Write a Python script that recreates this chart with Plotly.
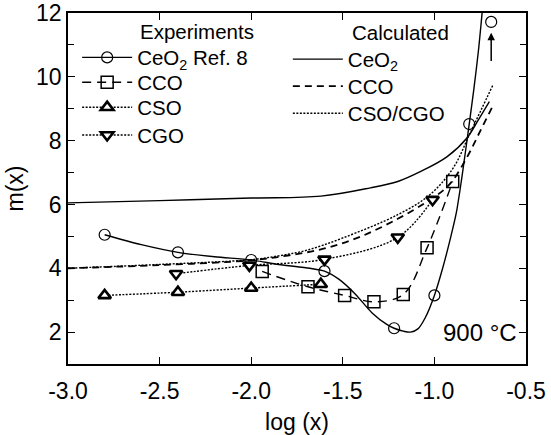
import plotly.graph_objects as go

# ---------------- data ----------------
# Experiments
ceo2_exp_x = [-2.8, -2.4, -2.0, -1.6, -1.22, -1.0, -0.81]
ceo2_exp_y = [5.05, 4.5, 4.26, 3.91, 2.12, 3.15, 8.52]
ceo2_off_x = [-0.69]
ceo2_off_y = [11.72]
ceo2_fit_x = [-2.8, -2.6, -2.4, -2.2, -2.0, -1.85, -1.68, -1.6, -1.52, -1.43, -1.34,
              -1.26, -1.22, -1.17, -1.13, -1.09, -1.05, -1.0, -0.955, -0.91, -0.88,
              -0.85, -0.81, -0.785, -0.76, -0.738]
ceo2_fit_y = [5.05, 4.74, 4.5, 4.36, 4.26, 4.12, 4.0, 3.91, 3.65, 3.18, 2.6,
              2.24, 2.12, 2.03, 2.0, 2.1, 2.45, 3.15, 4.0, 5.0, 5.75,
              6.85, 8.52, 9.6, 10.8, 12.1]

cco_exp_x = [-1.94, -1.69, -1.49, -1.33, -1.17, -1.04, -0.9]
cco_exp_y = [3.9, 3.42, 3.15, 2.95, 3.18, 4.64, 6.72]

cso_exp_x = [-2.8, -2.4, -2.0, -1.62]
cso_exp_y = [3.15, 3.25, 3.38, 3.5]

cgo_exp_x = [-2.41, -2.01, -1.6, -1.2, -1.01]
cgo_exp_y = [3.83, 4.09, 4.28, 4.97, 6.15]

# Calculated
ceo2_calc_x = [-3.0, -2.5, -2.0, -1.62, -1.35, -1.2, -1.08, -0.93, -0.82, -0.76, -0.7]
ceo2_calc_y = [6.05, 6.12, 6.2, 6.26, 6.52, 6.72, 7.02, 7.5, 8.1, 8.65, 9.22]

cco_calc_x = [-3.0, -2.5, -2.0, -1.8, -1.6, -1.4, -1.2, -1.05, -0.95, -0.9, -0.82, -0.75, -0.68]
cco_calc_y = [4.0, 4.1, 4.25, 4.4, 4.62, 5.0, 5.55, 6.05, 6.45, 6.75, 7.5, 8.3, 9.1]

csocgo_calc_x = [-3.0, -2.5, -2.0, -1.85, -1.7, -1.5, -1.2, -1.03, -0.9, -0.8, -0.68]
csocgo_calc_y = [4.0, 4.12, 4.27, 4.39, 4.56, 4.95, 5.68, 6.28, 7.12, 8.3, 9.75]

x_tick_vals = [-3.0, -2.5, -2.0, -1.5, -1.0, -0.5]
x_tick_text = ["-3.0", "-2.5", "-2.0", "-1.5", "-1.0", "-0.5"]
y_tick_vals = [2, 4, 6, 8, 10, 12]
y_tick_text = ["2", "4", "6", "8", "10", "12"]

# ---------------- figure ----------------
FONT = "Liberation Sans, Arial, Helvetica, sans-serif"
BLACK = "black"
LW = 1.4
LEG_FONT = 20.5

fig = go.Figure()

circ = dict(symbol="circle-open", size=11, color=BLACK, line=dict(width=1.2, color=BLACK))

# calculated curves
fig.add_trace(go.Scatter(x=ceo2_calc_x, y=ceo2_calc_y, mode="lines", name="CeO<sub>2</sub>",
                         line=dict(color=BLACK, width=LW, shape="spline"), legend="legend5"))
fig.add_trace(go.Scatter(x=cco_calc_x, y=cco_calc_y, mode="lines", name="CCO",
                         line=dict(color=BLACK, width=LW + 0.4, dash="7px,5px", shape="spline"),
                         legend="legend6"))
fig.add_trace(go.Scatter(x=csocgo_calc_x, y=csocgo_calc_y, mode="lines", name="CSO/CGO",
                         line=dict(color=BLACK, width=LW, dash="2px,1.5px", shape="spline"),
                         legend="legend7"))

# experimental: CeO2 fit line + markers
fig.add_trace(go.Scatter(x=ceo2_fit_x, y=ceo2_fit_y, mode="lines", showlegend=False,
                         line=dict(color=BLACK, width=LW, shape="spline", smoothing=0.8)))
fig.add_trace(go.Scatter(x=ceo2_exp_x, y=ceo2_exp_y, mode="markers", showlegend=False, marker=circ))
fig.add_trace(go.Scatter(x=ceo2_off_x, y=ceo2_off_y, mode="markers", showlegend=False, marker=circ))
# legend entry for the CeO2 experiment (carries no data points)
fig.add_trace(go.Scatter(x=[None], y=[None], mode="lines+markers", name="CeO<sub>2</sub> Ref. 8",
                         line=dict(color=BLACK, width=LW), marker=circ, legend="legend"))

fig.add_trace(go.Scatter(x=cco_exp_x, y=cco_exp_y, mode="lines+markers", name="CCO",
                         line=dict(color=BLACK, width=LW, dash="9px,6px", shape="spline"),
                         marker=dict(symbol="square-open", size=12, color=BLACK,
                                     line=dict(width=1.5, color=BLACK)),
                         legend="legend2"))
fig.add_trace(go.Scatter(x=cso_exp_x, y=cso_exp_y, mode="lines+markers", name="CSO",
                         line=dict(color=BLACK, width=LW, dash="2px,1.5px", shape="spline"),
                         marker=dict(symbol="triangle-up", size=11, color="white",
                                     line=dict(width=2.6, color=BLACK)),
                         legend="legend3"))
fig.add_trace(go.Scatter(x=cgo_exp_x, y=cgo_exp_y, mode="lines+markers", name="CGO",
                         line=dict(color=BLACK, width=LW, dash="2px,1.5px", shape="spline"),
                         marker=dict(symbol="triangle-down", size=11, color="white",
                                     line=dict(width=2.6, color=BLACK)),
                         legend="legend4"))

axis_common = dict(showline=True, linecolor=BLACK, linewidth=1.5, mirror="ticks",
                   ticks="inside", tickcolor=BLACK, tickwidth=1.3, ticklen=7,
                   showgrid=False, zeroline=False, automargin=False,
                   tickfont=dict(family=FONT, size=23, color=BLACK))

fig.update_xaxes(range=[-3.0, -0.5], tickvals=x_tick_vals, ticktext=x_tick_text,
                 ticklabelstandoff=6,
                 title=dict(text="log (x)", font=dict(family=FONT, size=23, color=BLACK), standoff=12),
                 **axis_common)
fig.update_yaxes(range=[1, 12], tickvals=y_tick_vals, ticktext=y_tick_text,
                 minor=dict(dtick=1, tick0=1, ticks="inside", ticklen=6, tickcolor=BLACK, tickwidth=1.2),
                 title=dict(text="m(x)", font=dict(family=FONT, size=23, color=BLACK), standoff=6),
                 **axis_common)

fig.add_annotation(text="Experiments", x=0.153, y=0.947, xref="paper", yref="paper",
                   xanchor="left", yanchor="middle", showarrow=False,
                   font=dict(family=FONT, size=LEG_FONT, color=BLACK))
fig.add_annotation(text="Calculated", x=0.616, y=0.944, xref="paper", yref="paper",
                   xanchor="left", yanchor="middle", showarrow=False,
                   font=dict(family=FONT, size=LEG_FONT, color=BLACK))
fig.add_annotation(text="900 °C", x=0.985, y=0.09, xref="paper", yref="paper",
                   xanchor="right", yanchor="middle", showarrow=False,
                   font=dict(family=FONT, size=24, color=BLACK))
# arrow marking the off-scale point
fig.add_annotation(x=ceo2_off_x[0], y=11.38, ax=ceo2_off_x[0], ay=10.45,
                   xref="x", yref="y", axref="x", ayref="y", showarrow=True,
                   arrowhead=2, arrowsize=1, arrowwidth=1.5, arrowcolor=BLACK, text="")


def leg(x, y):
    return dict(x=x, y=y, xanchor="left", yanchor="top", bgcolor="rgba(0,0,0,0)",
                font=dict(family=FONT, size=LEG_FONT, color=BLACK), itemwidth=50,
                traceorder="normal", tracegroupgap=0)


fig.update_layout(
    width=551, height=435,
    margin=dict(l=68, r=25, t=13, b=71),
    paper_bgcolor="white", plot_bgcolor="white",
    font=dict(family=FONT, color=BLACK),
    showlegend=True,
    legend=leg(0.02, 0.93),
    legend2=leg(0.02, 0.859),
    legend3=leg(0.02, 0.788),
    legend4=leg(0.02, 0.709),
    legend5=leg(0.48, 0.925),
    legend6=leg(0.48, 0.848),
    legend7=leg(0.48, 0.771),
)

fig.write_html("out.html")
